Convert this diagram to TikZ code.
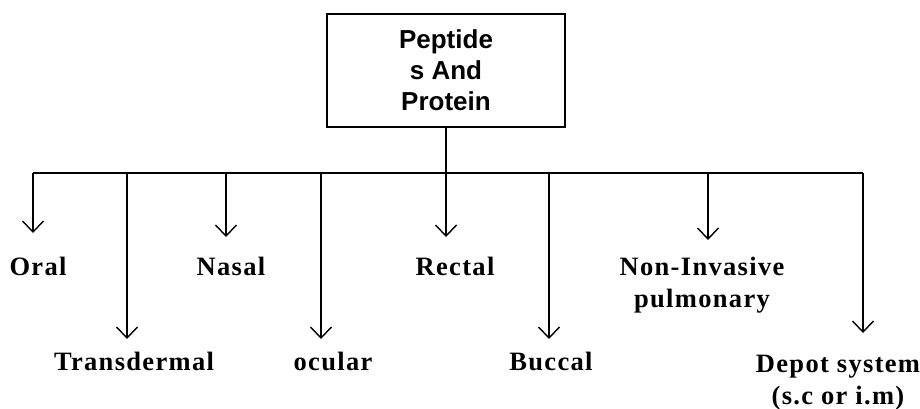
\documentclass[tikz,border=0pt]{standalone}
\usepackage{fontspec}
\setmainfont{Liberation Serif}[LetterSpace=5]
\newfontfamily\boxfont{Liberation Sans}
\usetikzlibrary{arrows.meta}
\tikzset{
  lbl/.style={inner sep=0pt, anchor=base, align=center, font=\fontsize{26.5}{32}\selectfont\bfseries},
  topbox/.style={draw, line width=1.4pt, minimum width=238pt, minimum height=113pt, inner sep=0pt, align=center, font=\boxfont\fontsize{26}{31}\selectfont\bfseries},
  conn/.style={line width=1.4pt},
  arr/.style={conn, -{Straight Barb[length=11pt,width=21pt,line width=1.4pt]}}
}
\begin{document}
\begin{tikzpicture}[x=1pt,y=-1pt]
\useasboundingbox (0,0) rectangle (920,408);
\node[topbox] (root) at (446,70.5) {Peptide\\s And\\Protein};
% bar coordinates
\coordinate (stem) at (446,173);
\coordinate (b1) at (33,173);
\coordinate (b2) at (127,173);
\coordinate (b3) at (226,173);
\coordinate (b4) at (321,173);
\coordinate (b5) at (446,173);
\coordinate (b6) at (549,173);
\coordinate (b7) at (708,173);
\coordinate (b8) at (863,173);
% arrow ends
\coordinate (e1) at (33,233);
\coordinate (e2) at (127,339);
\coordinate (e3) at (226,237);
\coordinate (e4) at (321,339);
\coordinate (e5) at (446,237);
\coordinate (e6) at (549,339);
\coordinate (e7) at (708,240);
\coordinate (e8) at (863,333);
% labels
\node[lbl] (oral) at (38,275) {Oral};
\node[lbl] (trans) at (134,370) {Transdermal};
\node[lbl] (nasal) at (231,275) {Nasal};
\node[lbl] (ocular) at (333,370) {ocular};
\node[lbl] (rectal) at (455,275) {Rectal};
\node[lbl] (buccal) at (551,370) {Buccal};
\node[lbl] (nonin) at (702,307) {Non-Invasive\\pulmonary};
\node[lbl] (depot) at (838,404) {Depot system\\(s.c or i.m)};
% connectors
\draw[conn] (root.south) -- (stem);
\draw[conn] (b1) -- (b8);
\foreach \i in {1,...,8} { \draw[arr] (b\i) -- (e\i); }
\end{tikzpicture}
\end{document}
